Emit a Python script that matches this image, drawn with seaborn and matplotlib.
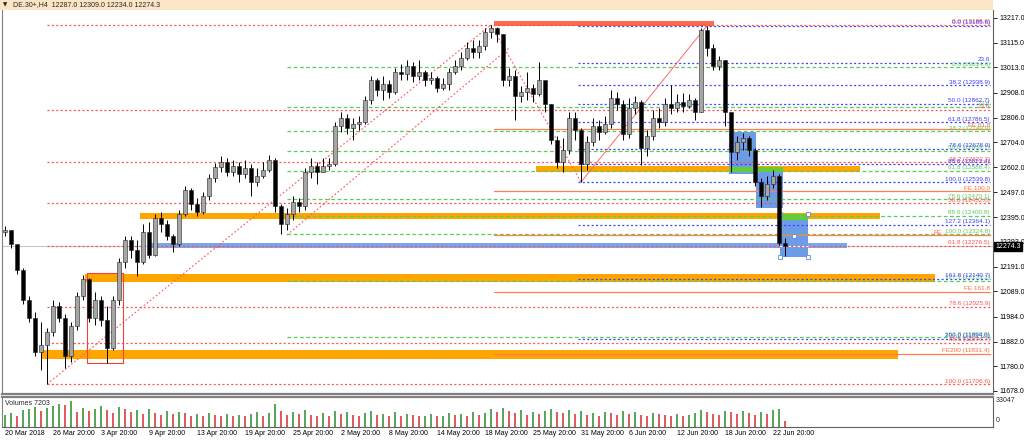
import numpy as np
import pandas as pd
import matplotlib
matplotlib.use("Agg")
import matplotlib.pyplot as plt
import matplotlib.transforms as mtransforms
from matplotlib.patches import Rectangle
import seaborn as sns

# ---------------- 数据:从图上读出 (DE.30+, 每根蜡烛约 2 x H4) ----------------
first_open = 12333.0
closes = [12341, 12284, 12176, 12052, 11978, 11838, 11866, 11920, 12027, 11978,
          11821, 11945, 12069, 12139, 11978, 12052, 11970, 11854, 12052, 12209,
          12300, 12259, 12209, 12333, 12238, 12391, 12366, 12317, 12284, 12407,
          12507, 12449, 12416, 12482, 12556, 12602, 12622, 12581, 12606, 12573,
          12597, 12540, 12564, 12589, 12630, 12441, 12366, 12407, 12457, 12441,
          12581, 12606, 12581, 12606, 12614, 12771, 12804, 12763, 12779, 12787,
          12878, 12961, 12920, 12944, 12911, 12994, 12986, 13019, 12977, 12994,
          12961, 12969, 12928, 12944, 12994, 13019, 13052, 13093, 13077, 13101,
          13159, 13176, 13151, 12961, 12977, 12895, 12911, 12928, 12903, 12961,
          12862, 12713, 12622, 12672, 12804, 12754, 12614, 12705, 12771, 12746,
          12779, 12887, 12862, 12738, 12845, 12870, 12680, 12730, 12804, 12787,
          12862, 12845, 12870, 12853, 12878, 12829, 13167, 13093, 13019, 13044,
          12829, 12664, 12705, 12721, 12672, 12540, 12482, 12531, 12564, 12287,
          12274.3]
highs = [12358, 12341, 12259, 12184, 12069, 12003, 11961, 11937, 12052, 12044,
         11994, 11961, 12085, 12156, 12143, 12085, 12069, 12028, 12069, 12226,
         12317, 12317, 12300, 12366, 12374, 12407, 12416, 12383, 12325, 12424,
         12523, 12515, 12474, 12498, 12573, 12618, 12647, 12639, 12631, 12622,
         12631, 12614, 12597, 12622, 12651, 12639, 12449, 12432, 12482, 12474,
         12597, 12639, 12622, 12639, 12639, 12788, 12829, 12820, 12804, 12812,
         12895, 12977, 12969, 12977, 12961, 13010, 13027, 13044, 13035, 13044,
         13002, 12994, 12977, 12969, 13010, 13044, 13077, 13118, 13126, 13126,
         13176, 13188.6, 13180, 13151, 13010, 13002, 12936, 12994, 12944, 13035,
         12936, 12862, 12730, 12722, 12829, 12829, 12763, 12730, 12804, 12796,
         12812, 12920, 12911, 12878, 12887, 12895, 12878, 12754, 12837, 12845,
         12887, 12940, 12903, 12907, 12903, 12887, 13176, 13185.6, 13110, 13060,
         13044, 12829, 12730, 12742, 12730, 12680, 12556, 12564, 12589, 12573,
         12309]
lows = [12317, 12267, 12160, 12036, 11961, 11821, 11763, 11706.6, 11904, 11961,
        11772, 11796, 11928, 12052, 11961, 11949, 11945, 11792, 11846, 12032,
        12185, 12226, 12151, 12201, 12226, 12234, 12333, 12300, 12251, 12275,
        12399, 12424, 12399, 12407, 12465, 12540, 12581, 12564, 12564, 12540,
        12556, 12482, 12523, 12556, 12581, 12416, 12325, 12341, 12383, 12416,
        12424, 12556, 12531, 12581, 12589, 12606, 12746, 12738, 12713, 12754,
        12779, 12862, 12895, 12878, 12887, 12903, 12961, 12961, 12953, 12961,
        12936, 12944, 12911, 12920, 12920, 12986, 13002, 13044, 13052, 13052,
        13085, 13134, 13118, 12936, 12936, 12796, 12870, 12878, 12870, 12895,
        12829, 12697, 12598, 12581, 12655, 12713, 12539.8, 12589, 12688, 12713,
        12738, 12763, 12837, 12713, 12721, 12820, 12610, 12647, 12713, 12763,
        12771, 12820, 12829, 12829, 12845, 12796, 12829, 13060, 13002, 13002,
        12771, 12581, 12631, 12672, 12647, 12523, 12436, 12465, 12515, 12280,
        12234]
# 成交量(千)
volumes_k = [14, 16, 12, 19, 20, 23, 18, 22, 24, 26, 25,
             30, 17, 22, 18, 21, 24, 19, 16, 23, 20,
             17, 19, 15, 20, 16, 14, 18, 15, 17, 16,
             13, 15, 12, 16, 14, 13, 15, 12, 14, 13,
             15, 17, 13, 16, 26, 18, 14, 17, 15, 19,
             14, 12, 16, 13, 18, 15, 17, 14, 13, 16,
             18, 14, 15, 12, 17, 13, 15, 14, 12, 13,
             15, 12, 13, 16, 14, 15, 13, 17, 14, 16,
             20, 17, 22, 18, 16, 19, 14, 17, 15, 18,
             21, 17, 16, 19, 15, 18, 14, 16, 13, 17,
             16, 14, 18, 15, 17, 14, 13, 16, 15, 14,
             13, 15, 12, 14, 16, 19, 17, 15, 14, 18,
             17, 15, 18, 16, 14, 17, 15, 19, 21, 7.203]

date_labels = ["20 Mar 2018", "26 Mar 20:00", "3 Apr 20:00", "9 Apr 20:00", "13 Apr 20:00",
               "19 Apr 20:00", "25 Apr 20:00", "2 May 20:00", "8 May 20:00", "14 May 20:00",
               "18 May 20:00", "25 May 20:00", "31 May 20:00", "6 Jun 20:00", "12 Jun 20:00",
               "18 Jun 20:00", "22 Jun 20:00"]
price_ticks = [13217.0, 13115.0, 13013.0, 12908.0, 12806.0, 12704.0, 12602.0, 12497.0,
               12395.0, 12293.0, 12191.0, 12089.0, 11984.0, 11882.0, 11780.0, 11678.0]

# 斐波那契水平 (文字, 价格)
red_labels = ["0.0 (13188.6)", "23.6", "38.2 (12622.7)", "50.0 (12452.6)", "61.8 (12276.5)",
              "78.6 (12025.9)", "88.6 (11876.7)", "100.0 (11706.6)"]
red_levels = [13188.6, 12838.8, 12622.7, 12452.6, 12276.5, 12025.9, 11876.7, 11706.6]
blue_labels = ["0.0 (13185.6)", "23.6", "38.2 (12938.9)", "50.0 (12862.7)", "61.8 (12786.5)",
               "78.6 (12678.0)", "88.6 (12613.4)", "100.0 (12539.8)", "127.2 (12364.1)",
               "161.8 (12140.7)", "200.0 (11894.0)"]
blue_levels = [13185.6, 13033.2, 12938.9, 12862.7, 12786.5, 12678.0, 12613.4, 12539.8,
               12364.1, 12140.7, 11894.0]
green_labels = ["0.0 (13014.6)", "23.6", "38.2 (12749.9)", "50.0 (12669.7)", "61.8 (12586.4)",
                "78.6 (12470.1)", "88.6 (12400.8)", "100.0 (12324.8)", "127.2 (12133.2)",
                "161.8 (11898.9)"]
green_levels = [13014.6, 12851.1, 12749.9, 12669.7, 12586.4, 12470.1, 12400.8, 12324.8,
                12133.2, 11898.9]
fe_labels = ["FE 61.8", "FE 100.0", "FE", "FE 161.8", "FE200 (11831.4)"]
fe_levels = [12759.6, 12503.0, 12320.1, 12088.0, 11831.4]

# 区域 (起始蜡烛, 结束蜡烛, 下沿价, 上沿价)
orange_zones = [(13.3, 155.0, 12128, 12161), (6.2, 148.8, 11810, 11847),
                (22.5, 145.8, 12387, 12412), (88.5, 142.5, 12581, 12606)]
red_zone = (81.5, 118.2, 13184, 13205)
blue_band = (24.2, 140.3, 12267, 12288)
blue_boxes = [(120.7, 125.2, 12573, 12747), (125.2, 129.7, 12433, 12602),
              (129.2, 133.8, 12231, 12408)]
green_strips = [(120.7, 129.7, 12582, 12602), (129.2, 133.8, 12383, 12408)]
red_box = (13.7, 19.7, 11794, 12165)
trend_lines = [((7, 11706.6), (81, 13188.6), "dot"), ((47, 12322), (84.2, 13097), "dot"),
               ((81, 13188.6), (96, 12539.8), "dot"), ((96, 12539.8), (117, 13185.6), "solid")]
last_price = 12274.3

# ---------------- 绘图 ----------------
sns.set_theme(style="white")
plt.rcParams["font.family"] = ["Liberation Sans", "DejaVu Sans"]

W, H = 1024, 441
fig = plt.figure(figsize=(W / 100, H / 100), dpi=100)
fig.patch.set_facecolor("white")


def fx(px):
    return px / W


def fy(py):
    return 1 - py / H


ax = fig.add_axes([fx(2), fy(394), fx(993) - fx(2), fy(10) - fy(394)])
axv = fig.add_axes([fx(2), fy(427), fx(993) - fx(2), fy(397) - fy(427)])

n = len(closes)
idx = np.arange(n)
opens = [first_open] + closes[:-1]
df = pd.DataFrame({"i": idx, "open": opens, "close": closes, "high": highs, "low": lows,
                   "vol": volumes_k})
df["up"] = df["close"] >= df["open"]

x_left, x_right = -0.5, (993 - 5) / 6
lab_x = (990 - 5) / 6

# 区域与方框
for s, e, lo, hi in orange_zones:
    ax.add_patch(Rectangle((s, lo), e - s, hi - lo, color="#FFA500", lw=0, zorder=1))
s, e, lo, hi = red_zone
ax.add_patch(Rectangle((s, lo), e - s, hi - lo, color="#FF6A4D", lw=0, zorder=1))
s, e, lo, hi = blue_band
ax.add_patch(Rectangle((s, lo), e - s, hi - lo, color="#7EA4EA", lw=0, zorder=1))
for s, e, lo, hi in blue_boxes:
    ax.add_patch(Rectangle((s, lo), e - s, hi - lo, color="#6C9BE8", lw=0, zorder=1))
for s, e, lo, hi in green_strips:
    ax.add_patch(Rectangle((s, lo), e - s, hi - lo, color="#66CC33", lw=0, zorder=1.1))
s, e, lo, hi = red_box
ax.add_patch(Rectangle((s, lo), e - s, hi - lo, fill=False, edgecolor="#F04040", lw=0.8, zorder=2))

# 当前价格线
ax.axhline(last_price, color="#C8C8C8", lw=0.8, zorder=0.9)
s, e, lo, hi = blue_boxes[2]
ax.plot([s, e], [last_price, last_price], color="white", lw=0.8, zorder=1.2)

# 斐波那契线
dot = (0, (1.6, 1.9))
fib_sets = [(red_levels, red_labels, 7, "#FF5050", dot),
            (green_levels, green_labels, 47, "#5ACD5A", (0, (3, 2))),
            (blue_levels, blue_labels, 95.5, "#3F3FFF", dot)]
for levels, labels, start, col, ls in fib_sets:
    for lv, lb in zip(levels, labels):
        ax.plot([start, lab_x], [lv, lv], color=col, lw=0.9, ls=ls, zorder=1.5)
        ax.text(lab_x, lv + 2, lb, color=col, fontsize=4.6, ha="right", va="bottom", zorder=3)
for lv, lb in zip(fe_levels, fe_labels):
    ax.plot([81.5, lab_x], [lv, lv], color="#FF7F50", lw=0.9, zorder=1.5)
    tx = lab_x if lb != "FE" else lab_x - 48 / 6
    ax.text(tx, lv + 2, lb, color="#FF6A3D", fontsize=4.6, ha="right", va="bottom", zorder=3)

# 趋势线
for (i0, p0), (i1, p1), kind in trend_lines:
    if kind == "dot":
        ax.plot([i0, i1], [p0, p1], color="#FF5A5A", lw=0.8, ls=dot, zorder=1.6)
    else:
        ax.plot([i0, i1], [p0, p1], color="#FF5A5A", lw=0.7, alpha=0.9, zorder=1.6)

# 选中对象的手柄
s, e, lo, hi = blue_boxes[2]
ax.plot([s, e, s, e, (s + e) / 2], [hi, hi, lo, lo, (hi + lo) / 2], ls="none", marker="s",
        ms=2.6, mfc="white", mec="#5A8BE0", mew=0.6, zorder=4)

# 蜡烛
ax.vlines(df["i"], df["low"], df["high"], color="black", lw=0.7, zorder=5)
body_lo = np.minimum(df["open"], df["close"])
body_h = np.maximum(np.abs(df["close"] - df["open"]), 2.0)
face = np.where(df["up"], "#A6A6A6", "black")
ax.bar(df["i"], body_h, bottom=body_lo, width=0.55, color=face, edgecolor="#222222",
       linewidth=0.4, zorder=6)

ax.set_xlim(x_left, x_right)
ax.set_ylim(11665.6, 13250.0)
ax.set_xticks([])
ax.set_yticks(price_ticks)
ax.set_yticklabels([f"{p:.1f}" for p in price_ticks])
ax.yaxis.tick_right()
ax.tick_params(axis="y", right=True, left=False, labelright=True, labelleft=False,
               length=3, width=0.6, labelsize=5, pad=1.5, direction="out", colors="black")
ax.set_facecolor("white")
ax.grid(False)
ax.spines["top"].set_visible(False)
ax.spines["left"].set_color("#808080")
ax.spines["left"].set_linewidth(0.8)
ax.spines["right"].set_color("#606060")
ax.spines["right"].set_linewidth(0.8)
ax.spines["bottom"].set_color("#808080")
ax.spines["bottom"].set_linewidth(1.6)

# 价格标签
trans = mtransforms.blended_transform_factory(ax.transAxes, ax.transData)
ax.text(1.002, last_price, "12274.3", transform=trans, ha="left", va="center", color="white",
        fontsize=5, zorder=10, clip_on=False,
        bbox=dict(facecolor="black", edgecolor="black", pad=0.8))

# 成交量 (seaborn)
df["dir"] = np.where(df["vol"].diff().fillna(1) > 0, "up", "down")
sns.barplot(data=df, x="i", y="vol", hue="dir", native_scale=True, dodge=False,
            palette={"up": "#4DB34D", "down": "#F04848"}, width=0.3, errorbar=None,
            legend=False, linewidth=0, ax=axv)
axv.set_xlim(x_left, x_right)
axv.set_ylim(0, 34.2)
axv.set_xlabel("")
axv.set_ylabel("")
axv.set_yticks([])
axv.set_xticks(np.arange(0, n, 8))
axv.set_xticklabels(date_labels)
for t in axv.get_xticklabels():
    t.set_ha("left")
axv.tick_params(axis="x", bottom=True, direction="in", length=3, width=0.6, labelsize=5,
                pad=2, colors="black")
axv.grid(False)
axv.set_facecolor("white")
axv.spines["top"].set_color("#808080")
axv.spines["top"].set_linewidth(1.6)
axv.spines["left"].set_color("#808080")
axv.spines["left"].set_linewidth(0.8)
axv.spines["right"].set_color("#606060")
axv.spines["right"].set_linewidth(0.8)
axv.spines["bottom"].set_color("#606060")
axv.spines["bottom"].set_linewidth(0.8)
axv.text(0.003, 0.9, "Volumes 7203", transform=axv.transAxes, fontsize=5, ha="left", va="top")
fig.text(fx(996), fy(401), "33047", fontsize=5, ha="left", va="center")
fig.text(fx(996), fy(421), "0", fontsize=5, ha="left", va="center")

# 顶部标题栏
fig.patches.append(Rectangle((0, fy(9.5)), fx(993), 1 - fy(9.5), transform=fig.transFigure,
                             color="#FCE4C6", lw=0, zorder=0))
fig.text(fx(3), fy(5), "\u25BC", fontsize=4, ha="left", va="center", family=["DejaVu Sans"])
fig.text(fx(13), fy(5), "DE.30+,H4  12287.0 12309.0 12234.0 12274.3", fontsize=5,
         ha="left", va="center")

fig.savefig("out.png", dpi=100)
